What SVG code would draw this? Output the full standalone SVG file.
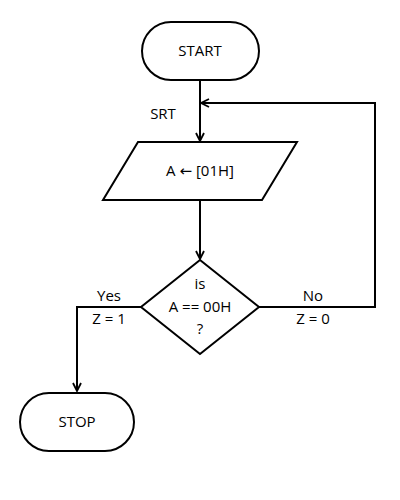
<svg xmlns="http://www.w3.org/2000/svg" width="400" height="500" viewBox="0 0 400 500">
<style>
.s{fill:#fff;stroke:#000;stroke-width:2}
.c{fill:none;stroke:#000;stroke-width:2}
text{font-family:"Open Sans","DejaVu Sans",sans-serif;font-size:15px;fill:#000;text-anchor:middle}
</style>
<defs><marker id="a" markerWidth="10" markerHeight="10" refX="9" refY="5" orient="auto" markerUnits="userSpaceOnUse"><path d="M1,1 L9,5 L1,9" fill="none" stroke="#000" stroke-width="1.8"/></marker></defs>
<rect width="400" height="500" fill="#fff"/>
<g id="connectors">
<path class="c" d="M200,80 V141" marker-end="url(#a)"/>
<path class="c" d="M200,200 V259" marker-end="url(#a)"/>
<path class="c" d="M259,307 H375 V103 H201" marker-end="url(#a)"/>
<path class="c" d="M141,307 H77 V391" marker-end="url(#a)"/>
</g>
<g id="start"><rect class="s" x="142" y="22" width="117" height="58" rx="29"/><text x="200" y="56">START</text></g>
<text x="163" y="119">SRT</text>
<g id="load"><polygon class="s" points="138,142 297,142 262,200 103,200"/><text x="200" y="176">A ← [01H]</text></g>
<g id="decision"><polygon class="s" points="200,260 259,307 200,354 141,307"/><text x="200" y="289">is</text><text x="200" y="312">A == 00H</text><text x="200" y="334">?</text></g>
<text x="109" y="301">Yes</text><text x="109" y="324">Z = 1</text>
<text x="313" y="301">No</text><text x="313" y="324">Z = 0</text>
<g id="stop"><rect class="s" x="20" y="393" width="114" height="58" rx="29"/><text x="77" y="427">STOP</text></g>
</svg>
